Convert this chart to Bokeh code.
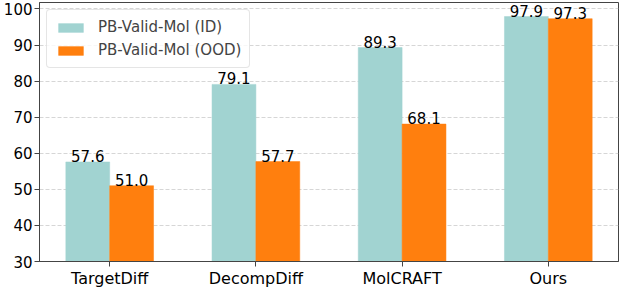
from bokeh.plotting import figure
from bokeh.models import ColumnDataSource, LabelSet, FixedTicker, Range1d, Legend, LegendItem
from bokeh.core.properties import value
from bokeh.embed import file_html
from bokeh.resources import INLINE

categories = ["TargetDiff", "DecompDiff", "MolCRAFT", "Ours"]
id_values = [57.6, 79.1, 89.3, 97.9]
ood_values = [51.0, 57.7, 68.1, 97.3]
series_names = ["PB-Valid-Mol (ID)", "PB-Valid-Mol (OOD)"]
y_ticks = [30, 40, 50, 60, 70, 80, 90, 100]

TEAL = "#a1d3d1"
ORANGE = "#ff7f0e"
FONT = "DejaVu Sans"
BAR_W = 0.3

idx = list(range(len(categories)))
src_id = ColumnDataSource(dict(x=[i - BAR_W / 2 for i in idx], top=id_values,
                               lab=[f"{v:.1f}" for v in id_values]))
src_ood = ColumnDataSource(dict(x=[i + BAR_W / 2 for i in idx], top=ood_values,
                                lab=[f"{v:.1f}" for v in ood_values]))

p = figure(width=624, height=290, output_backend="svg", toolbar_location=None,
           x_range=Range1d(-0.48, len(categories) - 1 + 0.48),
           y_range=Range1d(30, 101.8))
p.min_border_left = 2
p.min_border_right = 6
p.min_border_top = 2
p.min_border_bottom = 2

r1 = p.vbar(x="x", top="top", bottom=30, width=BAR_W, source=src_id,
            fill_color=TEAL, line_color=TEAL, line_width=0.5)
r2 = p.vbar(x="x", top="top", bottom=30, width=BAR_W, source=src_ood,
            fill_color=ORANGE, line_color=ORANGE, line_width=0.5)

for s in (src_id, src_ood):
    p.add_layout(LabelSet(x="x", y="top", text="lab", source=s, text_align="center",
                          text_baseline="bottom", y_offset=0,
                          text_font=value(FONT), text_font_size=value("15px"),
                          text_color="black"))

p.xaxis.ticker = FixedTicker(ticks=idx)
p.xaxis.major_label_overrides = {i: c for i, c in zip(idx, categories)}
p.yaxis.ticker = FixedTicker(ticks=y_ticks)

for ax in (p.xaxis, p.yaxis):
    ax.major_label_text_font = FONT
    ax.major_label_text_font_size = "15px"
    ax.major_label_text_color = "black"
    ax.axis_line_color = "#444444"
    ax.major_tick_line_color = "#444444"
    ax.major_tick_out = 5
    ax.major_tick_in = 0
    ax.minor_tick_line_color = None
    ax.major_label_standoff = 2
p.xaxis.major_label_text_font_size = "16px"

p.xgrid.grid_line_color = None
p.ygrid.grid_line_color = "#cccccc"
p.ygrid.grid_line_dash = "4 2"
p.ygrid.grid_line_width = 0.8

p.outline_line_color = "#444444"
p.outline_line_width = 1

legend = Legend(items=[LegendItem(label=series_names[0], renderers=[r1]),
                       LegendItem(label=series_names[1], renderers=[r2])],
                location="top_left")
legend.label_text_font = FONT
legend.label_text_font_size = "15px"
legend.glyph_width = 31
legend.glyph_height = 11
legend.label_height = 18
legend.spacing = 5
legend.padding = 8
legend.margin = 7
legend.border_line_color = "#cccccc"
legend.border_radius = 4
legend.background_fill_alpha = 0.8
legend.label_standoff = 12
p.add_layout(legend)

open("out.html", "w").write(file_html(p, INLINE))
